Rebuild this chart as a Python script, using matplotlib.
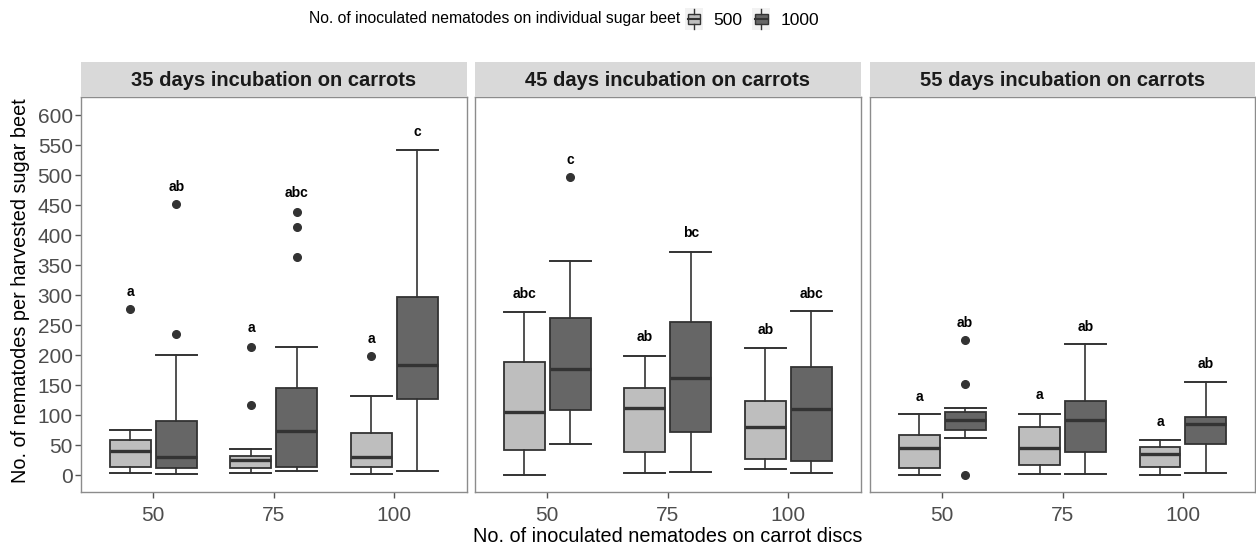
import numpy as np
import matplotlib
matplotlib.use("Agg")
import matplotlib.pyplot as plt
from matplotlib.patches import Rectangle, Patch
from matplotlib.lines import Line2D
from matplotlib.legend_handler import HandlerBase

plt.rcParams['font.family'] = ['Liberation Sans', 'DejaVu Sans']

# ---------------- data ----------------
panel_titles = ["35 days incubation on carrots", "45 days incubation on carrots",
                "55 days incubation on carrots"]
carrot_doses = ["50", "75", "100"]
beet_doses = ["500", "1000"]

# rows = panels (35, 45, 55 days), cols = carrot doses (50, 75, 100)
whislo_500 = [[4.5, 4.5, 2], [0, 4.5, 10.5], [0, 2, 0]]
q1_500 = [[14, 13, 14], [42, 39, 27], [11.5, 16.5, 14]]
med_500 = [[41, 25.5, 30.5], [106, 113, 81], [45, 45, 35]]
q3_500 = [[59, 33, 71], [189, 145, 124], [67, 80, 48]]
whishi_500 = [[75.5, 44, 132], [272, 199, 213], [103, 103, 59]]
fliers_500 = [[[278], [214, 117], [199]], [[], [], []], [[], [], []]]

whislo_1000 = [[2, 7.7, 7.7], [52, 6, 4.5], [63, 2, 4.5]]
q1_1000 = [[13, 14, 128], [109, 73, 24], [75.5, 39, 52]]
med_1000 = [[30.5, 74, 184], [178, 163, 110.5], [92, 91.5, 85]]
q3_1000 = [[90, 145, 297], [263, 256, 180], [105, 124, 98]]
whishi_1000 = [[200, 214, 543], [358, 373, 274], [113, 219, 155.5]]
fliers_1000 = [[[235.5, 452], [364, 414, 439], []], [[497], [], []], [[0, 153, 225], [], []]]

letters_500 = [["a", "a", "a"], ["abc", "ab", "ab"], ["a", "a", "a"]]
letters_1000 = [["ab", "abc", "c"], ["c", "bc", "abc"], ["ab", "ab", "ab"]]
letter_y_500 = [[306, 245, 228], [303, 231, 243], [131, 134, 89]]
letter_y_1000 = [[481, 471, 573], [525, 404, 302], [254, 248, 185]]

y_ticks = list(range(0, 601, 50))

# ---------------- style ----------------
W, H = 1256, 547
fig = plt.figure(figsize=(W / 100, H / 100), dpi=100)

fill_cols = {"500": "#BEBEBE", "1000": "#666666"}
edge_col = "#333333"
tick_col = "#4D4D4D"
border_col = "#8C8C8C"

panel_x = [(81, 466.7), (475, 860.7), (870, 1255)]
panel_top, panel_bot = 96.7, 492.3
strip_top = 62

offset = 0.19
bw = 0.34

groups = {
    "500": (whislo_500, q1_500, med_500, q3_500, whishi_500, fliers_500, letters_500, letter_y_500, -offset),
    "1000": (whislo_1000, q1_1000, med_1000, q3_1000, whishi_1000, fliers_1000, letters_1000, letter_y_1000, offset),
}

axes = []
for p in range(3):
    x0, x1 = panel_x[p]
    ax = fig.add_axes([x0 / W, 1 - panel_bot / H, (x1 - x0) / W, (panel_bot - panel_top) / H])
    axes.append(ax)
    for g in beet_doses:
        wl, q1, md, q3, wh, fl, lt, ly, off = groups[g]
        stats = []
        for i in range(3):
            stats.append(dict(med=md[p][i], q1=q1[p][i], q3=q3[p][i],
                              whislo=wl[p][i], whishi=wh[p][i],
                              fliers=np.array(fl[p][i], dtype=float)))
        pos = np.arange(1, 4) + off
        ax.bxp(stats, positions=pos, widths=bw, capwidths=bw, patch_artist=True,
               showfliers=True, manage_ticks=False,
               boxprops=dict(facecolor=fill_cols[g], edgecolor=edge_col, linewidth=1.3),
               medianprops=dict(color=edge_col, linewidth=2.4, solid_capstyle='butt'),
               whiskerprops=dict(color=edge_col, linewidth=1.2),
               capprops=dict(color=edge_col, linewidth=1.4),
               flierprops=dict(marker='o', markerfacecolor=edge_col, markeredgecolor=edge_col,
                               markersize=5.5, linestyle='none'))
        for i in range(3):
            ax.text(pos[i], ly[p][i], lt[p][i], ha='center', va='center',
                    fontsize=10, fontweight='bold', color='black')
    ax.set_xlim(0.4, 3.6)
    ax.set_ylim(-28.3, 631)
    ax.set_xticks([1, 2, 3])
    ax.set_xticklabels(carrot_doses)
    ax.set_yticks(y_ticks)
    ax.tick_params(axis='x', length=4, width=1, color='#555555', labelsize=15,
                   labelcolor=tick_col, pad=6)
    if p == 0:
        ax.set_yticklabels([str(t) for t in y_ticks])
        ax.tick_params(axis='y', length=4, width=1, color='#555555', labelsize=15,
                       labelcolor=tick_col, pad=2)
    else:
        ax.tick_params(axis='y', length=0, labelleft=False)
    for s in ax.spines.values():
        s.set_color(border_col)
        s.set_linewidth(1.0)
    ax.set_facecolor('white')

    # strip
    sax = fig.add_axes([x0 / W, 1 - panel_top / H, (x1 - x0) / W, (panel_top - strip_top) / H])
    sax.set_facecolor('#D9D9D9')
    sax.set_xticks([])
    sax.set_yticks([])
    for s in sax.spines.values():
        s.set_visible(False)
    sax.text(0.5, 0.48, panel_titles[p], ha='center', va='center', fontsize=14.5,
             fontweight='bold', color='#1A1A1A', transform=sax.transAxes)

# axis titles
fig.text(667.5 / W, 1 - 537 / H, "No. of inoculated nematodes on carrot discs",
         ha='center', va='center', fontsize=14.3, color='black')
fig.text(21 / W, 1 - 291 / H, "No. of nematodes per harvested sugar beet",
         ha='center', va='center', rotation=90, fontsize=14.3, color='black')


# legend
class BoxHandler(HandlerBase):
    def create_artists(self, legend, orig_handle, xdescent, ydescent, width, height,
                       fontsize, trans):
        x0, y0 = -xdescent, -ydescent
        bg = Rectangle((x0, y0), width, height, facecolor='#F2F2F2', edgecolor='none',
                       transform=trans)
        bx = Rectangle((x0 + width * 0.15, y0 + height * 0.27), width * 0.7, height * 0.46,
                       facecolor=orig_handle.get_facecolor(), edgecolor=edge_col,
                       linewidth=1.0, transform=trans)
        xm = x0 + width / 2
        med = Line2D([x0 + width * 0.15, x0 + width * 0.85], [y0 + height / 2] * 2,
                     color=edge_col, linewidth=1.5, transform=trans)
        wu = Line2D([xm, xm], [y0 + height * 0.73, y0 + height * 0.95], color=edge_col,
                    linewidth=1.0, transform=trans)
        wd = Line2D([xm, xm], [y0 + height * 0.05, y0 + height * 0.27], color=edge_col,
                    linewidth=1.0, transform=trans)
        return [bg, bx, med, wu, wd]


handles = [Patch(facecolor=fill_cols[g]) for g in beet_doses]
fig.text(680 / W, 1 - 19 / H, "No. of inoculated nematodes on individual sugar beet",
         ha='right', va='center', fontsize=11.3, color='black')
fig.legend(handles, beet_doses, handler_map={Patch: BoxHandler()}, loc='center left',
           bbox_to_anchor=(685 / W, 1 - 19 / H), ncol=2, frameon=False, fontsize=12.5,
           handlelength=1.05, handleheight=1.5, handletextpad=0.6, columnspacing=0.55,
           borderpad=0, borderaxespad=0)

fig.savefig("out.png", dpi=100)
